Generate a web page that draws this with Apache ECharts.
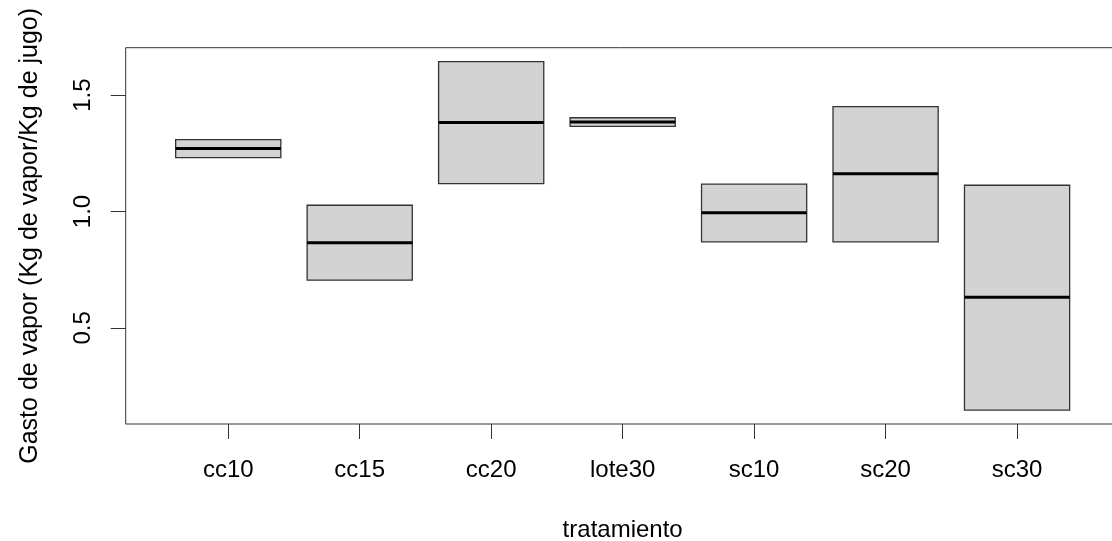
<!DOCTYPE html>
<html>
<head>
<meta charset="utf-8">
<script src="https://cdn.jsdelivr.net/npm/echarts@6/dist/echarts.min.js"></script>
<style>
html,body{margin:0;padding:0;background:#fff;}
#chart{width:1112px;height:541px;}
</style>
</head>
<body>
<div id="chart"></div>
<script>
const categories = ['cc10', 'cc15', 'cc20', 'lote30', 'sc10', 'sc20', 'sc30'];
const lowerValues = [1.232, 0.705, 1.120, 1.366, 0.870, 0.870, 0.147];
const medianValues = [1.271, 0.866, 1.382, 1.385, 0.995, 1.162, 0.632];
const upperValues = [1.309, 1.027, 1.644, 1.403, 1.118, 1.451, 1.113];
const yTickValues = [0.5, 1.0, 1.5];

const xAxisTitle = 'tratamiento';
const yAxisTitle = 'Gasto de vapor (Kg de vapor/Kg de jugo)';

// R-style axis range: data range extended by 4% on each side
const dMin = Math.min(...lowerValues), dMax = Math.max(...upperValues);
const ext = (dMax - dMin) * 0.04;
const xExt = (categories.length) * 0.04;

const boxData = categories.map((c, i) => [i + 1, lowerValues[i], medianValues[i], upperValues[i]]);

const FONT = 'Liberation Sans, Arial, sans-serif';
const chart = echarts.init(document.getElementById('chart'), null, {renderer: 'canvas'});
chart.setOption({
  animation: false,
  backgroundColor: '#ffffff',
  grid: {
    left: 125.7, top: 47.7, bottom: 117, right: -7.6,
    show: true, borderColor: '#333', borderWidth: 1, backgroundColor: 'transparent',
    containLabel: false,
    outerBoundsMode: 'none'
  },
  xAxis: {
    type: 'value',
    min: 0.5 - xExt, max: categories.length + 0.5 + xExt,
    axisLine: {show: false},
    splitLine: {show: false},
    axisTick: {show: true, length: 15, customValues: categories.map((c, i) => i + 1), lineStyle: {color: '#333', width: 1}},
    axisLabel: {
      customValues: categories.map((c, i) => i + 1),
      formatter: v => categories[Math.round(v) - 1] || '',
      color: '#000', fontSize: 24, fontFamily: FONT, margin: 34
    },
    name: xAxisTitle, nameLocation: 'middle', nameGap: 94,
    nameTextStyle: {color: '#000', fontSize: 24, fontFamily: FONT}
  },
  yAxis: {
    type: 'value',
    min: dMin - ext, max: dMax + ext,
    axisLine: {show: false},
    splitLine: {show: false},
    axisTick: {show: true, length: 15, customValues: yTickValues, lineStyle: {color: '#333', width: 1}},
    axisLabel: {
      customValues: yTickValues,
      formatter: v => v.toFixed(1),
      rotate: 90,
      color: '#000', fontSize: 24, fontFamily: FONT, margin: 30
    },
    name: yAxisTitle, nameLocation: 'middle', nameGap: 83, nameRotate: 90,
    nameTextStyle: {color: '#000', fontSize: 25, fontFamily: FONT}
  },
  series: [{
    type: 'custom',
    data: boxData,
    encode: {x: 0, y: [1, 2, 3]},
    renderItem: function (params, api) {
      const x = api.value(0);
      const lo = api.coord([x, api.value(1)]);
      const med = api.coord([x, api.value(2)]);
      const hi = api.coord([x, api.value(3)]);
      const halfW = api.size([0.4, 0])[0];
      return {
        type: 'group',
        children: [
          {
            type: 'rect',
            shape: {x: lo[0] - halfW, y: hi[1], width: halfW * 2, height: lo[1] - hi[1]},
            style: {fill: '#d3d3d3', stroke: '#333', lineWidth: 1.3}
          },
          {
            type: 'line',
            shape: {x1: med[0] - halfW, y1: med[1], x2: med[0] + halfW, y2: med[1]},
            style: {stroke: '#000', lineWidth: 3}
          }
        ]
      };
    }
  }]
});
</script>
</body>
</html>
